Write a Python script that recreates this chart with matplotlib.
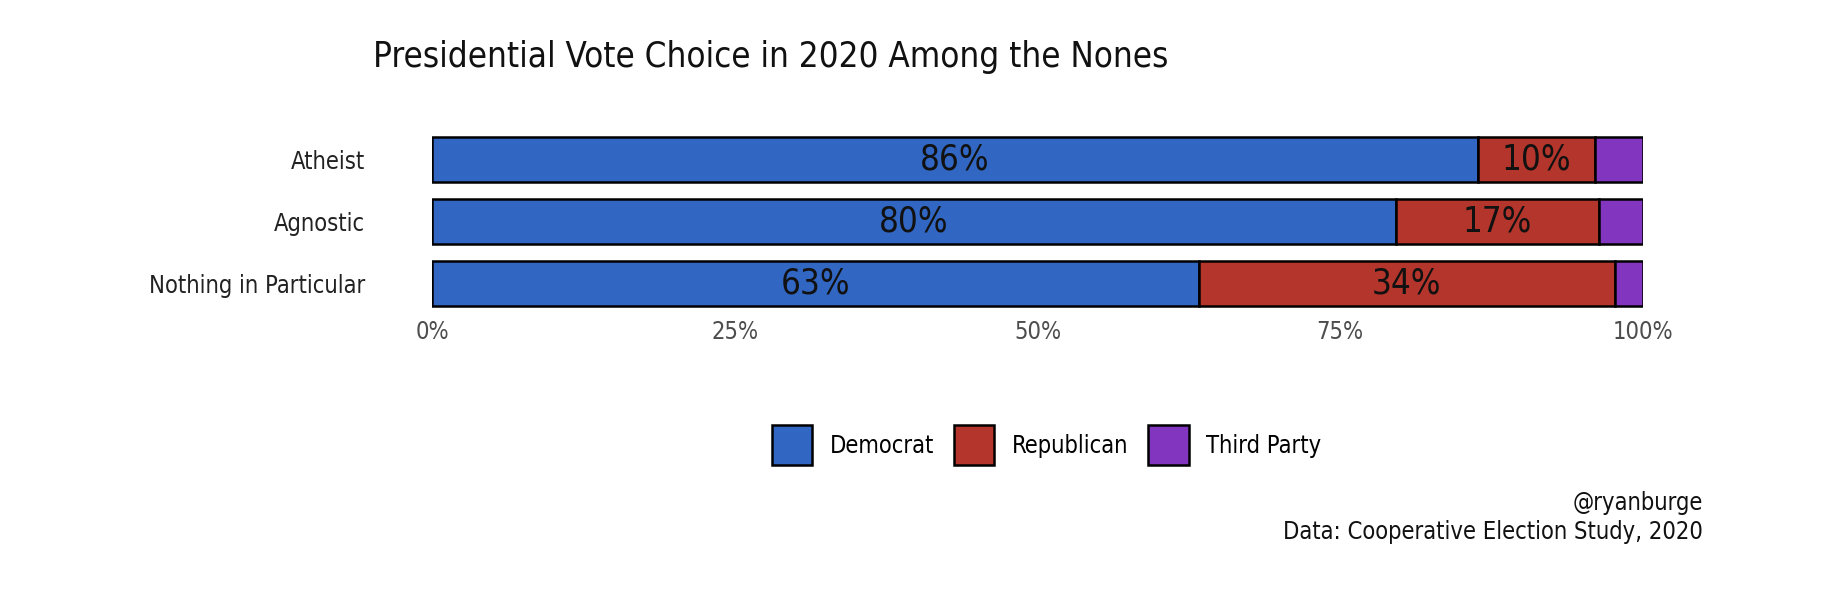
import matplotlib
matplotlib.use("Agg")
import matplotlib.pyplot as plt
from matplotlib.patches import Patch
from matplotlib.ticker import FuncFormatter

plt.rcParams["font.family"] = ["DejaVu Sans Condensed", "DejaVu Sans"]
plt.rcParams["font.stretch"] = "condensed"

groups = ["Atheist", "Agnostic", "Nothing in Particular"]
parties = ["Democrat", "Republican", "Third Party"]
democrat = [86.4, 79.6, 63.3]
republican = [9.6, 16.8, 34.4]
third_party = [4.0, 3.6, 2.3]
colors = ["#3167C2", "#B3352B", "#8236BF"]
xticks = [0, 25, 50, 75, 100]

fig = plt.figure(figsize=(18.46, 6.04), dpi=100)
ax = fig.add_axes([0.234, 0.487, 0.656, 0.292])

ypos = [len(groups) - 1 - i for i in range(len(groups))]
left = [0.0] * len(groups)
for vals, col in zip([democrat, republican, third_party], colors):
    ax.barh(ypos, vals, left=left, height=0.72, color=col,
            edgecolor="black", linewidth=1.8)
    # labels only for the two big parties
    if col != colors[2]:
        for y, l, v in zip(ypos, left, vals):
            ax.text(l + v / 2, y, f"{round(v):.0f}%", ha="center", va="center",
                    fontsize=25, color="#111111")
    left = [l + v for l, v in zip(left, vals)]

ax.set_xlim(0, 100)
ax.set_ylim(-0.42, 2.42)
ax.set_xticks(xticks)
ax.xaxis.set_major_formatter(FuncFormatter(lambda x, p: f"{x:.0f}%"))
ax.set_yticks(ypos)
ax.set_yticklabels(groups)
ax.tick_params(axis="x", length=0, pad=7, labelsize=17, labelcolor="#4d4d4d")
ax.tick_params(axis="y", length=0, pad=48, labelsize=17, labelcolor="#222222")
for s in ax.spines.values():
    s.set_visible(False)

fig.text(0.202, 0.905, "Presidential Vote Choice in 2020 Among the Nones",
         fontsize=25, color="#111111", va="center", ha="left")

handles = [Patch(facecolor=c, edgecolor="black", linewidth=1.8) for c in colors]
fig.legend(handles, parties, loc="center", bbox_to_anchor=(0.567, 0.263),
           ncol=3, frameon=False, fontsize=17, handlelength=1.7, handleheight=2.2,
           handletextpad=0.75, columnspacing=0.85)

fig.text(0.9225, 0.167, "@ryanburge", ha="right", va="center", fontsize=17,
         color="#111111")
fig.text(0.9225, 0.12, "Data: Cooperative Election Study, 2020", ha="right",
         va="center", fontsize=17, color="#111111")

fig.savefig("out.png", dpi=100, facecolor="white")
